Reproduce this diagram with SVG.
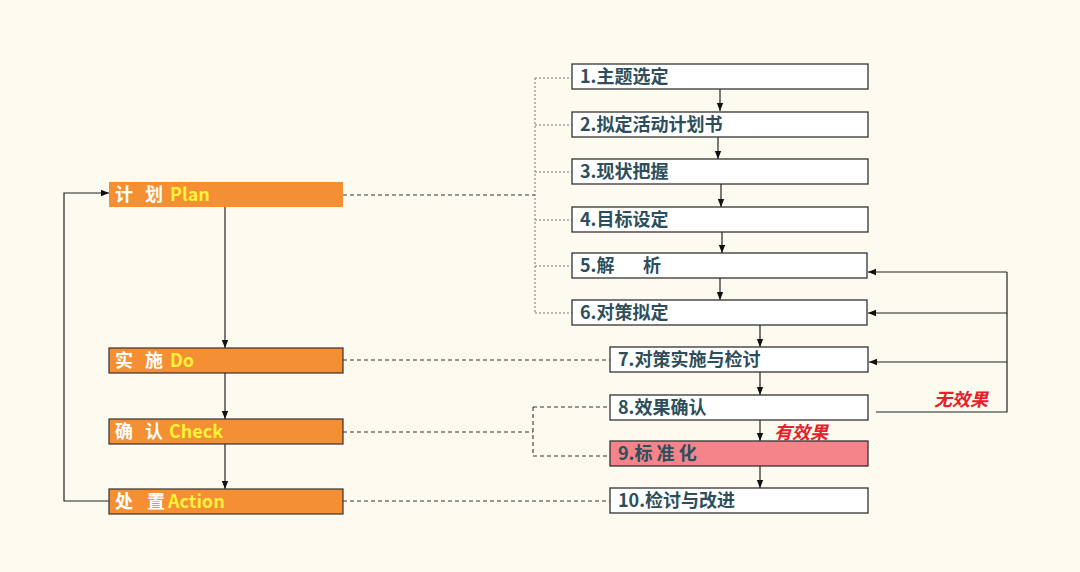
<svg xmlns="http://www.w3.org/2000/svg" width="1080" height="572" viewBox="0 0 1080 572">
<defs>
<marker id="ah" viewBox="0 0 10 10" refX="10" refY="5" markerWidth="8" markerHeight="8" markerUnits="userSpaceOnUse" orient="auto"><path d="M0,1 L10,5 L0,9 z" fill="#111"/></marker>
<style>
.bg{fill:#FDFAEF}
.ph{fill:#F58F33;stroke:#333;stroke-width:1.2}
.st{fill:#FFFFFF;stroke:#333;stroke-width:1.3}
.pk{fill:#F4838A;stroke:#333;stroke-width:1.3}
.lt{font-family:"Noto Sans CJK SC","Noto Sans",sans-serif;font-weight:bold;font-size:18px;fill:#FFFFFF}
.en{fill:#FFF23A}
.rt{font-family:"Noto Sans CJK SC","Noto Sans",sans-serif;font-weight:bold;font-size:18px;fill:#2E4E5C}
.red{font-family:"Noto Sans CJK SC","Noto Sans",sans-serif;font-weight:bold;font-style:italic;font-size:18px;fill:#E8202A}
.ln{fill:none;stroke:#222;stroke-width:1.2}
.dot{fill:none;stroke:#777;stroke-width:1;stroke-dasharray:2 2}
.dash{fill:none;stroke:#333;stroke-width:1.1;stroke-dasharray:4 3}
</style>
</defs>
<rect class="bg" x="0" y="0" width="1080" height="572"/>
<g id="connectors">
<path class="dot" d="M535,78 V313 M535,78 H572 M535,125 H572 M535,172 H572 M535,220 H572 M535,266 H572 M535,313 H572"/>
<path class="dash" d="M343,195 H535"/>
<path class="dash" d="M343,360 H610"/>
<path class="dash" d="M343,432 H533 M533,407 V456 M533,407 H610 M533,456 H610"/>
<path class="dash" d="M343,501 H610"/>
<path class="ln" d="M720,89 V111" marker-end="url(#ah)"/>
<path class="ln" d="M718,137 V159" marker-end="url(#ah)"/>
<path class="ln" d="M721,184 V207" marker-end="url(#ah)"/>
<path class="ln" d="M722,232 V253" marker-end="url(#ah)"/>
<path class="ln" d="M720,278 V300" marker-end="url(#ah)"/>
<path class="ln" d="M760,325 V347" marker-end="url(#ah)"/>
<path class="ln" d="M760,372 V395" marker-end="url(#ah)"/>
<path class="ln" d="M760,420 V441" marker-end="url(#ah)"/>
<path class="ln" d="M760,466 V488" marker-end="url(#ah)"/>
<path class="ln" d="M876,412 H1007 V272"/>
<path class="ln" d="M1007,272 H868" marker-end="url(#ah)"/>
<path class="ln" d="M1007,313 H868" marker-end="url(#ah)"/>
<path class="ln" d="M1007,362 H869" marker-end="url(#ah)"/>
<path class="ln" d="M225,207 V348" marker-end="url(#ah)"/>
<path class="ln" d="M225,373 V419" marker-end="url(#ah)"/>
<path class="ln" d="M225,444 V489" marker-end="url(#ah)"/>
<path class="ln" d="M109,501 H64 V193 H109" marker-end="url(#ah)"/>
</g>
<g id="plan"><rect x="109" y="182" width="234" height="25" fill="#F58F33"/><text class="lt" y="201"><tspan x="115">计</tspan><tspan x="145">划</tspan><tspan class="en" x="170">Plan</tspan></text></g>
<g id="do"><rect class="ph" x="109" y="348" width="234" height="25"/><text class="lt" y="367"><tspan x="115">实</tspan><tspan x="145">施</tspan><tspan class="en" x="170">Do</tspan></text></g>
<g id="check"><rect class="ph" x="109" y="419" width="234" height="25"/><text class="lt" y="438"><tspan x="115">确</tspan><tspan x="145">认</tspan><tspan class="en" x="169">Check</tspan></text></g>
<g id="action"><rect class="ph" x="109" y="489" width="234" height="25"/><text class="lt" y="508"><tspan x="115">处</tspan><tspan x="147">置</tspan><tspan class="en" x="168">Action</tspan></text></g>
<g id="s1"><rect class="st" x="572" y="64" width="296" height="25"/><text class="rt" x="580" y="83">1.主题选定</text></g>
<g id="s2"><rect class="st" x="572" y="112" width="296" height="25"/><text class="rt" x="580" y="131">2.拟定活动计划书</text></g>
<g id="s3"><rect class="st" x="572" y="159" width="296" height="25"/><text class="rt" x="580" y="178">3.现状把握</text></g>
<g id="s4"><rect class="st" x="572" y="207" width="296" height="25"/><text class="rt" x="580" y="226">4.目标设定</text></g>
<g id="s5"><rect class="st" x="572" y="253" width="295" height="25"/><text class="rt" y="272"><tspan x="580">5.解</tspan><tspan x="643">析</tspan></text></g>
<g id="s6"><rect class="st" x="572" y="300" width="295" height="25"/><text class="rt" x="580" y="319">6.对策拟定</text></g>
<g id="s7"><rect class="st" x="610" y="347" width="258" height="25"/><text class="rt" x="618" y="366">7.对策实施与检讨</text></g>
<g id="s8"><rect class="st" x="610" y="395" width="258" height="25"/><text class="rt" x="618" y="414">8.效果确认</text></g>
<g id="s9"><rect class="pk" x="610" y="441" width="258" height="25"/><text class="rt" x="618" y="460">9.标 准 化</text></g>
<g id="s10"><rect class="st" x="610" y="488" width="258" height="25"/><text class="rt" x="618" y="507">10.检讨与改进</text></g>
<text class="red" x="934" y="406">无效果</text>
<text class="red" x="774" y="439">有效果</text>
</svg>
